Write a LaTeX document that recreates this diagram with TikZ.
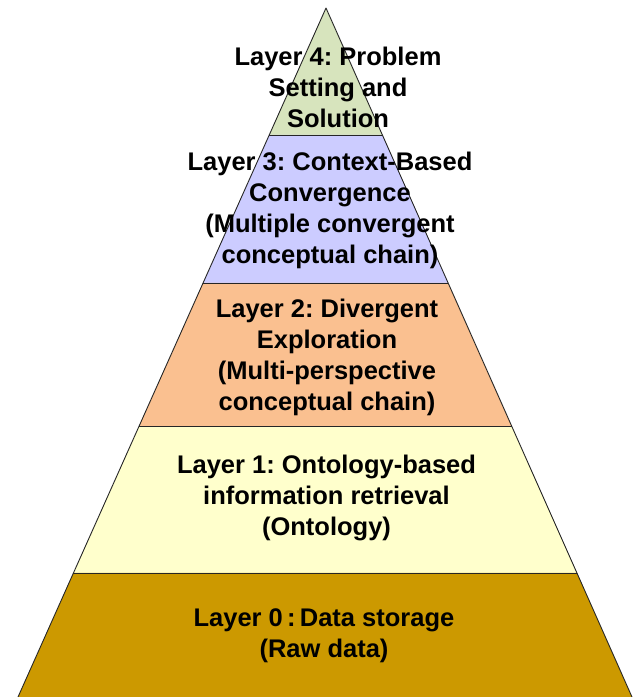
\documentclass[tikz,border=0pt]{standalone}
\usepackage{fontspec}
\setmainfont{Liberation Sans}
\usetikzlibrary{calc}
\definecolor{lfour}{HTML}{D7E4BD}
\definecolor{lthree}{HTML}{CCCCFF}
\definecolor{ltwo}{HTML}{FAC090}
\definecolor{lone}{HTML}{FFFFCC}
\definecolor{lzero}{HTML}{CC9900}
\frenchspacing
\begin{document}
\begin{tikzpicture}[x=1pt,y=-1pt,
  edge/.style={draw=black!85, line width=0.9pt, line join=round},
  lbl/.style={font=\bfseries\fontsize{25.5}{31}\selectfont, align=center, inner sep=0pt, text=black}]
\useasboundingbox (0,0) rectangle (633,697);
\coordinate (A) at (326,8);
\coordinate (BL) at (18,697);
\coordinate (BR) at (632,697);
\coordinate (L1) at ($(A)!0.1843!(BL)$);
\coordinate (R1) at ($(A)!0.1843!(BR)$);
\coordinate (L2) at ($(A)!0.3991!(BL)$);
\coordinate (R2) at ($(A)!0.3991!(BR)$);
\coordinate (L3) at ($(A)!0.6067!(BL)$);
\coordinate (R3) at ($(A)!0.6067!(BR)$);
\coordinate (L4) at ($(A)!0.8200!(BL)$);
\coordinate (R4) at ($(A)!0.8200!(BR)$);
% fills
\fill[lfour] (A) -- (R1) -- (L1) -- cycle;
\fill[lthree] (L1) -- (R1) -- (R2) -- (L2) -- cycle;
\fill[ltwo] (L2) -- (R2) -- (R3) -- (L3) -- cycle;
\fill[lone] (L3) -- (R3) -- (R4) -- (L4) -- cycle;
\fill[lzero] (L4) -- (R4) -- (BR) -- (BL) -- cycle;
% outline and dividers
\draw[edge] (BL) -- (A) -- (BR);
\draw[edge] (L1) -- (R1);
\draw[edge] (L2) -- (R2);
\draw[edge] (L3) -- (R3);
\draw[edge] (L4) -- (R4);
% labels
\node[lbl] (t4) at (338,87) {Layer 4: Problem\\Setting and\\Solution};
\node[lbl] (t3) at (330,210) {Layer 3: Context-Based\\Convergence\\(Multiple convergent\\conceptual chain)};
\node[lbl] (t2) at (327,357) {Layer 2: Divergent\\Exploration\\(Multi-perspective\\conceptual chain)};
\node[lbl] (t1) at (326.5,498) {Layer 1: Ontology-based\\information retrieval\\(Ontology)};
\node[lbl] (t0) at (324,636) {Layer 0\,:\,Data storage\\(Raw data)};
\end{tikzpicture}
\end{document}
